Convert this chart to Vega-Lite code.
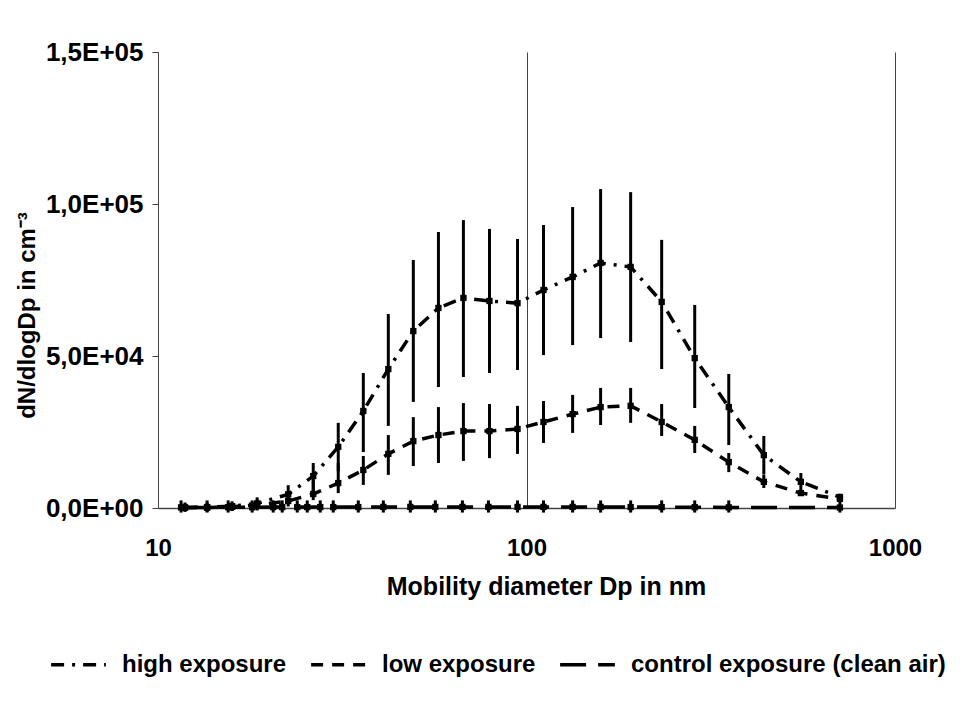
{
  "$schema": "https://vega.github.io/schema/vega-lite/v6.json",
  "autosize": {"type": "none"},
  "padding": {"left": 158, "top": 52, "right": 65, "bottom": 212},
  "width": 737,
  "height": 456,
  "background": "white",
  "config": {
    "view": {"stroke": null},
    "font": "Liberation Sans"
  },
  "datasets": {
    "d": [
      {"series": "high exposure", "d": 11.84, "y": 200, "lo": -1200, "hi": 1800},
      {"series": "high exposure", "d": 13.59, "y": 300, "lo": -1200, "hi": 1800},
      {"series": "high exposure", "d": 15.89, "y": 600, "lo": -1000, "hi": 2200},
      {"series": "high exposure", "d": 18.58, "y": 1500, "lo": -500, "hi": 3500},
      {"series": "high exposure", "d": 22.56, "y": 4500, "lo": 2000, "hi": 7500},
      {"series": "high exposure", "d": 26.38, "y": 10500, "lo": 5300, "hi": 14800},
      {"series": "high exposure", "d": 30.84, "y": 20100, "lo": 12100, "hi": 28000},
      {"series": "high exposure", "d": 36.07, "y": 31900, "lo": 18400, "hi": 44400},
      {"series": "high exposure", "d": 42.17, "y": 45700, "lo": 27000, "hi": 63800},
      {"series": "high exposure", "d": 49.3, "y": 58200, "lo": 34900, "hi": 81600},
      {"series": "high exposure", "d": 57.68, "y": 65800, "lo": 39800, "hi": 90800},
      {"series": "high exposure", "d": 67.42, "y": 69100, "lo": 43100, "hi": 94700},
      {"series": "high exposure", "d": 79.35, "y": 68100, "lo": 44400, "hi": 91800},
      {"series": "high exposure", "d": 94.55, "y": 67400, "lo": 45400, "hi": 88500},
      {"series": "high exposure", "d": 111.2, "y": 71700, "lo": 50300, "hi": 93100},
      {"series": "high exposure", "d": 133.4, "y": 76000, "lo": 53600, "hi": 99000},
      {"series": "high exposure", "d": 158.9, "y": 80600, "lo": 55900, "hi": 104900},
      {"series": "high exposure", "d": 191.7, "y": 79300, "lo": 54600, "hi": 103900},
      {"series": "high exposure", "d": 232.7, "y": 67800, "lo": 45700, "hi": 88200},
      {"series": "high exposure", "d": 286.1, "y": 49300, "lo": 32900, "hi": 66800},
      {"series": "high exposure", "d": 353.9, "y": 33200, "lo": 20700, "hi": 44100},
      {"series": "high exposure", "d": 440.6, "y": 17400, "lo": 11000, "hi": 23700},
      {"series": "high exposure", "d": 555.3, "y": 8600, "lo": 5900, "hi": 11500},
      {"series": "high exposure", "d": 708.8, "y": 3600, "lo": 2500, "hi": 4700},
      {"series": "low exposure", "d": 11.84, "y": 100, "lo": -1200, "hi": 1500},
      {"series": "low exposure", "d": 13.59, "y": 150, "lo": -1200, "hi": 1500},
      {"series": "low exposure", "d": 15.89, "y": 400, "lo": -1000, "hi": 1800},
      {"series": "low exposure", "d": 18.58, "y": 1000, "lo": -800, "hi": 2800},
      {"series": "low exposure", "d": 22.56, "y": 2300, "lo": 500, "hi": 4000},
      {"series": "low exposure", "d": 26.38, "y": 4600, "lo": 2600, "hi": 9200},
      {"series": "low exposure", "d": 30.84, "y": 8200, "lo": 4900, "hi": 14800},
      {"series": "low exposure", "d": 36.07, "y": 12500, "lo": 7600, "hi": 17100},
      {"series": "low exposure", "d": 42.17, "y": 17800, "lo": 10900, "hi": 24000},
      {"series": "low exposure", "d": 49.3, "y": 22000, "lo": 13800, "hi": 29900},
      {"series": "low exposure", "d": 57.68, "y": 24000, "lo": 14800, "hi": 33200},
      {"series": "low exposure", "d": 67.42, "y": 25300, "lo": 15500, "hi": 34500},
      {"series": "low exposure", "d": 79.35, "y": 25300, "lo": 16400, "hi": 34200},
      {"series": "low exposure", "d": 94.55, "y": 26000, "lo": 17800, "hi": 33600},
      {"series": "low exposure", "d": 111.2, "y": 28300, "lo": 21400, "hi": 35200},
      {"series": "low exposure", "d": 133.4, "y": 30900, "lo": 24700, "hi": 37200},
      {"series": "low exposure", "d": 158.9, "y": 33200, "lo": 27300, "hi": 39500},
      {"series": "low exposure", "d": 191.7, "y": 33600, "lo": 28000, "hi": 39500},
      {"series": "low exposure", "d": 232.7, "y": 28300, "lo": 23700, "hi": 34200},
      {"series": "low exposure", "d": 286.1, "y": 22400, "lo": 18100, "hi": 27000},
      {"series": "low exposure", "d": 353.9, "y": 15100, "lo": 11800, "hi": 18100},
      {"series": "low exposure", "d": 440.6, "y": 8600, "lo": 6600, "hi": 10900},
      {"series": "low exposure", "d": 555.3, "y": 4900, "lo": 4000, "hi": 6000},
      {"series": "low exposure", "d": 708.8, "y": 3000, "lo": 2300, "hi": 3600},
      {"series": "control exposure (clean air)", "d": 11.55, "y": 200, "lo": -1500, "hi": 2500},
      {"series": "control exposure (clean air)", "d": 13.59, "y": 200, "lo": -1500, "hi": 2500},
      {"series": "control exposure (clean air)", "d": 15.5, "y": 250, "lo": -1500, "hi": 2500},
      {"series": "control exposure (clean air)", "d": 18.01, "y": 250, "lo": -1500, "hi": 2500},
      {"series": "control exposure (clean air)", "d": 20.54, "y": 300, "lo": -1500, "hi": 2500},
      {"series": "control exposure (clean air)", "d": 21.73, "y": 300, "lo": -1500, "hi": 2500},
      {"series": "control exposure (clean air)", "d": 23.87, "y": 300, "lo": -1500, "hi": 2500},
      {"series": "control exposure (clean air)", "d": 25.41, "y": 300, "lo": -1500, "hi": 2500},
      {"series": "control exposure (clean air)", "d": 27.56, "y": 300, "lo": -1500, "hi": 2500},
      {"series": "control exposure (clean air)", "d": 29.89, "y": 300, "lo": -1500, "hi": 2500},
      {"series": "control exposure (clean air)", "d": 34.96, "y": 300, "lo": -1500, "hi": 2500},
      {"series": "control exposure (clean air)", "d": 40.88, "y": 350, "lo": -1500, "hi": 2500},
      {"series": "control exposure (clean air)", "d": 48.39, "y": 350, "lo": -1500, "hi": 2500},
      {"series": "control exposure (clean air)", "d": 56.57, "y": 350, "lo": -1500, "hi": 2500},
      {"series": "control exposure (clean air)", "d": 67.0, "y": 350, "lo": -1500, "hi": 2500},
      {"series": "control exposure (clean air)", "d": 78.83, "y": 350, "lo": -1500, "hi": 2500},
      {"series": "control exposure (clean air)", "d": 94.55, "y": 350, "lo": -1500, "hi": 2500},
      {"series": "control exposure (clean air)", "d": 111.2, "y": 350, "lo": -1500, "hi": 2500},
      {"series": "control exposure (clean air)", "d": 133.4, "y": 350, "lo": -1500, "hi": 2500},
      {"series": "control exposure (clean air)", "d": 158.9, "y": 350, "lo": -1500, "hi": 2500},
      {"series": "control exposure (clean air)", "d": 191.7, "y": 300, "lo": -1500, "hi": 2500},
      {"series": "control exposure (clean air)", "d": 232.7, "y": 300, "lo": -1500, "hi": 2500},
      {"series": "control exposure (clean air)", "d": 286.1, "y": 250, "lo": -1500, "hi": 2500},
      {"series": "control exposure (clean air)", "d": 353.9, "y": 200, "lo": -1500, "hi": 2500},
      {"series": "control exposure (clean air)", "d": 708.8, "y": 150, "lo": -1500, "hi": 2500}
    ]
  },
  "data": {"name": "d"},
  "layer": [
    {
      "mark": {"type": "rule", "color": "black", "strokeWidth": 3},
      "encoding": {
        "x": {"field": "d", "type": "quantitative", "scale": {"type": "log", "domain": [10, 1000], "nice": false}},
        "y": {"field": "lo", "type": "quantitative"},
        "y2": {"field": "hi"}
      }
    },
    {
      "mark": {"type": "line", "color": "black", "strokeWidth": 3.5},
      "encoding": {
        "x": {"field": "d", "type": "quantitative"},
        "y": {"field": "y", "type": "quantitative"},
        "strokeDash": {
          "field": "series", "type": "nominal",
          "scale": {
            "domain": ["high exposure", "low exposure", "control exposure (clean air)"],
            "range": [[13, 8, 3, 8], [12, 9], [26, 12]]
          },
          "legend": {
            "title": null,
            "orient": "none",
            "direction": "horizontal",
            "legendX": -109,
            "legendY": 583,
            "symbolType": "stroke",
            "symbolSize": 3000,
            "symbolStrokeWidth": 3.5,
            "symbolStrokeColor": "black",
            "labelFontSize": 24,
            "labelFontWeight": "bold",
            "labelColor": "black",
            "labelOffset": 14,
            "columnPadding": 17,
            "labelLimit": 400
          }
        },
        "order": {"field": "d", "type": "quantitative"}
      }
    },
    {
      "mark": {"type": "point", "shape": "square", "filled": true, "color": "black", "size": 40, "opacity": 1},
      "encoding": {
        "x": {
          "field": "d", "type": "quantitative",
          "axis": {
            "values": [10, 100, 1000],
            "title": "Mobility diameter Dp in nm",
            "titleFontSize": 25,
            "titleFontWeight": "bold",
            "titleColor": "black",
            "titleX": 388,
            "titleY": 86,
            "titleBaseline": "alphabetic",
            "titleAlign": "center",
            "labelFontSize": 24,
            "labelFontWeight": "bold",
            "labelColor": "black",
            "labelPadding": 28,
            "ticks": false,
            "tickSize": 0,
            "grid": true,
            "gridColor": "#444444",
            "gridWidth": 1,
            "gridOpacity": 1,
            "domainColor": "#444444",
            "domainWidth": 1.5,
            "format": "d",
            "labelFlush": false
          }
        },
        "y": {
          "field": "y", "type": "quantitative",
          "scale": {"domain": [0, 150000], "nice": false},
          "axis": {
            "values": [0, 50000, 100000, 150000],
            "labelExpr": "replace(replace(format(datum.value, '.1e'), '.', ','), 'e+', 'E+0')",
            "title": "dN/dlogDp in cm⁻³",
            "titleFontSize": 24,
            "titleFontWeight": "bold",
            "titleColor": "black",
            "titleX": -131,
            "titleY": 263,
            "titleAngle": 270,
            "titleBaseline": "middle",
            "titleAlign": "center",
            "labelFontSize": 26,
            "labelFontWeight": "bold",
            "labelColor": "black",
            "labelPadding": 9,
            "tickSize": 6,
            "tickColor": "#444444",
            "domainColor": "#444444",
            "grid": false
          }
        }
      }
    }
  ]
}
